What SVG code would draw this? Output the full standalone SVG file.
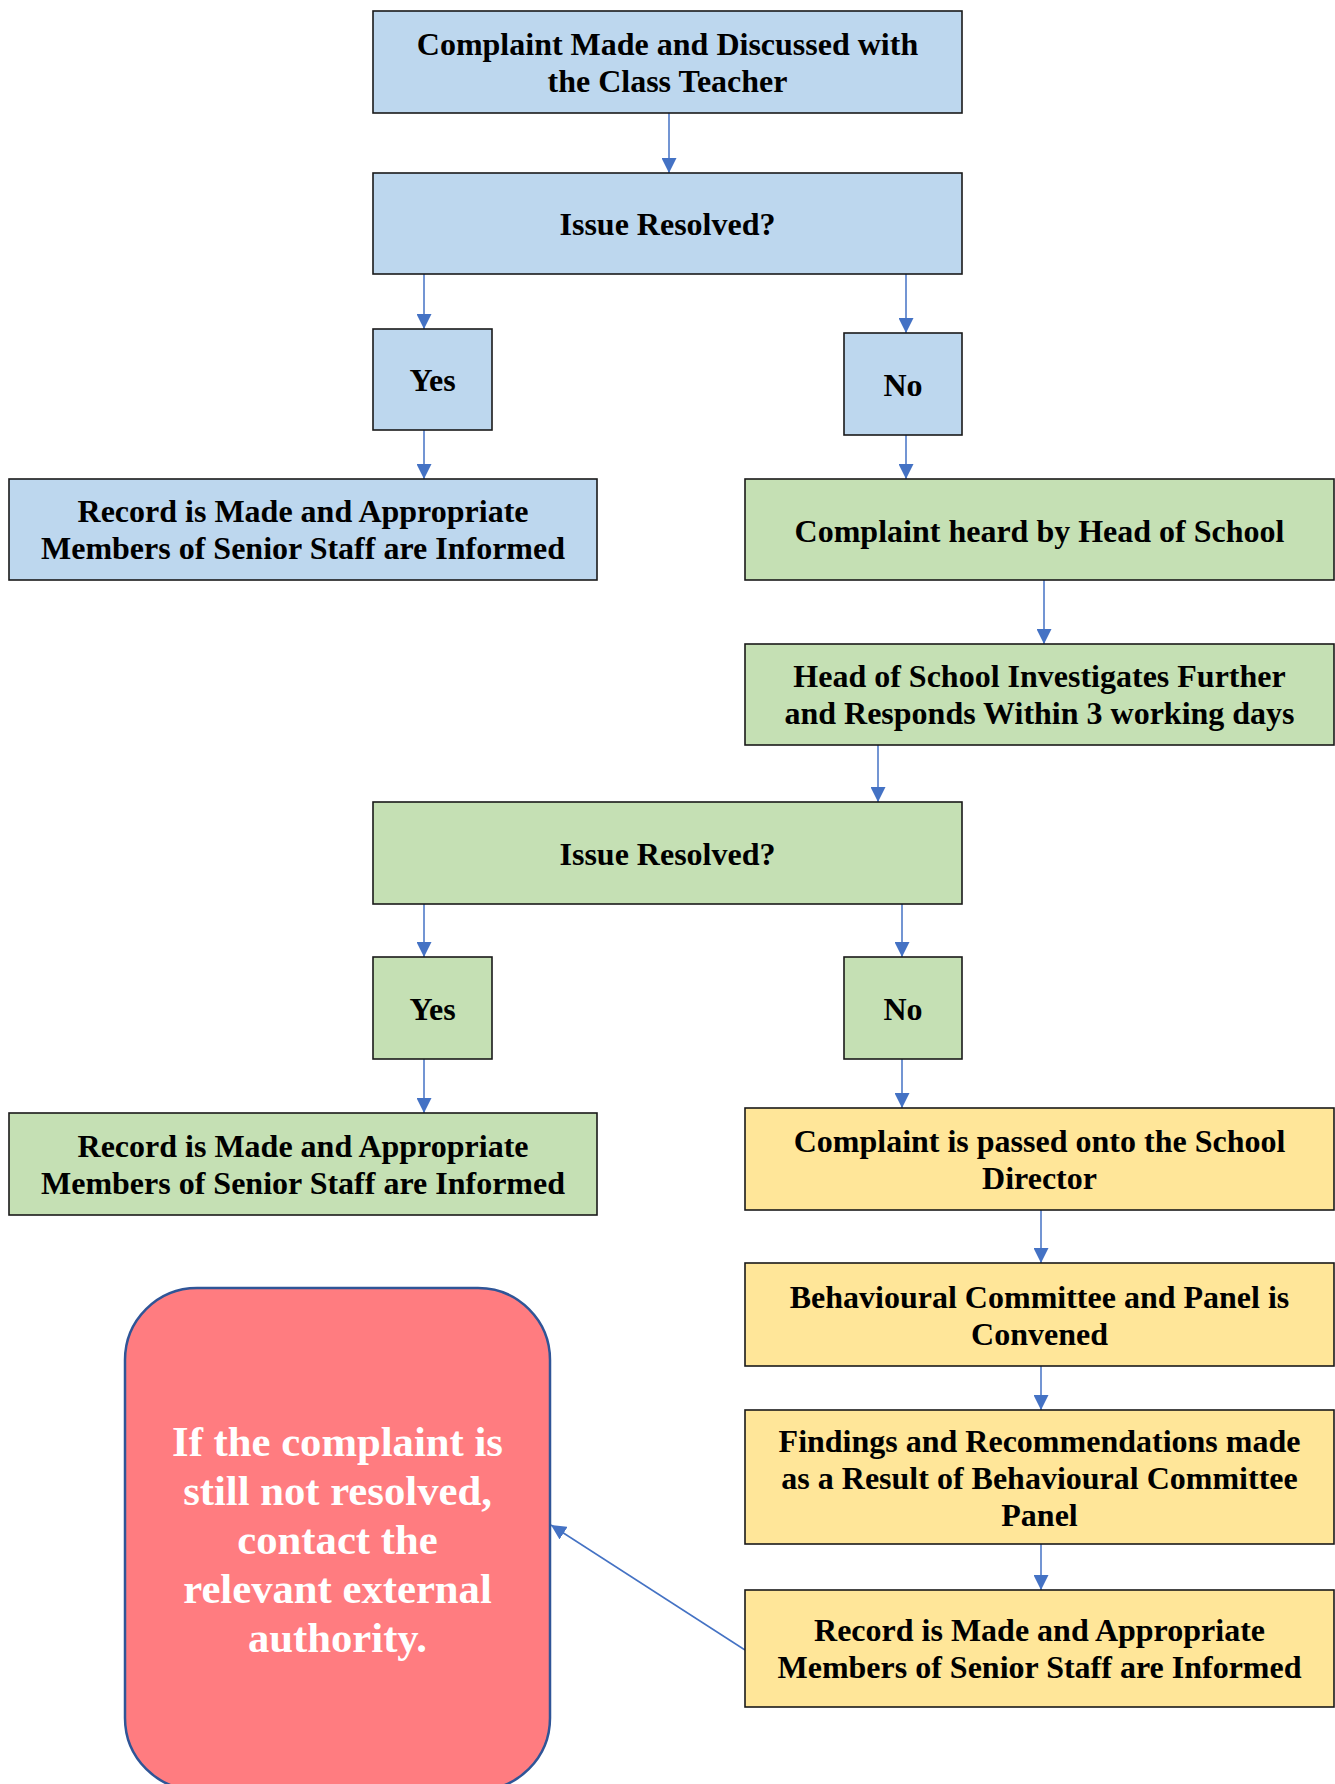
<svg xmlns="http://www.w3.org/2000/svg" width="1335" height="1784" viewBox="0 0 1335 1784">
<style>
.box{stroke:#1a1a1a;stroke-width:1.6}
.blue{fill:#BDD7EE}
.green{fill:#C5E0B4}
.yellow{fill:#FFE699}
.t{font-family:"Liberation Serif","Times New Roman",serif;font-weight:bold;font-size:32px;fill:#000;text-anchor:middle}
.w{font-family:"Liberation Serif","Times New Roman",serif;font-weight:bold;font-size:42.7px;fill:#fff;text-anchor:middle}
.c{stroke:#4472C4;stroke-width:1.5;fill:none;marker-end:url(#ah)}
</style>
<defs>
<marker id="ah" viewBox="0 0 10 10" refX="10" refY="5" markerUnits="userSpaceOnUse" markerWidth="15" markerHeight="15" orient="auto">
<path d="M0,0 L10,5 L0,10 z" fill="#4472C4"/>
</marker>
</defs>
<rect width="1335" height="1784" fill="#fff"/>
<g id="connectors">
<line class="c" x1="669" y1="113" x2="669" y2="173"/>
<line class="c" x1="424" y1="274" x2="424" y2="329"/>
<line class="c" x1="906" y1="274" x2="906" y2="333"/>
<line class="c" x1="424" y1="430" x2="424" y2="479"/>
<line class="c" x1="906" y1="435" x2="906" y2="479"/>
<line class="c" x1="1044" y1="580" x2="1044" y2="644"/>
<line class="c" x1="878" y1="745" x2="878" y2="802"/>
<line class="c" x1="424" y1="904" x2="424" y2="957"/>
<line class="c" x1="902" y1="904" x2="902" y2="957"/>
<line class="c" x1="424" y1="1059" x2="424" y2="1113"/>
<line class="c" x1="902" y1="1059" x2="902" y2="1108"/>
<line class="c" x1="1041" y1="1210" x2="1041" y2="1263"/>
<line class="c" x1="1041" y1="1366" x2="1041" y2="1410"/>
<line class="c" x1="1041" y1="1544" x2="1041" y2="1590"/>
<line class="c" x1="745" y1="1650" x2="551" y2="1525"/>
</g>
<g id="n1"><rect class="box blue" x="373" y="11" width="589" height="102"/>
<text class="t" x="667.5" y="55">Complaint Made and Discussed with</text>
<text class="t" x="667.5" y="92">the Class Teacher</text></g>
<g id="n2"><rect class="box blue" x="373" y="173" width="589" height="101"/>
<text class="t" x="667.5" y="235">Issue Resolved?</text></g>
<g id="n3"><rect class="box blue" x="373" y="329" width="119" height="101"/>
<text class="t" x="432.5" y="391">Yes</text></g>
<g id="n4"><rect class="box blue" x="844" y="333" width="118" height="102"/>
<text class="t" x="903" y="396">No</text></g>
<g id="n5"><rect class="box blue" x="9" y="479" width="588" height="101"/>
<text class="t" x="303" y="522">Record is Made and Appropriate</text>
<text class="t" x="303" y="559">Members of Senior Staff are Informed</text></g>
<g id="n6"><rect class="box green" x="745" y="479" width="589" height="101"/>
<text class="t" x="1039.5" y="542">Complaint heard by Head of School</text></g>
<g id="n7"><rect class="box green" x="745" y="644" width="589" height="101"/>
<text class="t" x="1039.5" y="687">Head of School Investigates Further</text>
<text class="t" x="1039.5" y="724">and Responds Within 3 working days</text></g>
<g id="n8"><rect class="box green" x="373" y="802" width="589" height="102"/>
<text class="t" x="667.5" y="865">Issue Resolved?</text></g>
<g id="n9"><rect class="box green" x="373" y="957" width="119" height="102"/>
<text class="t" x="432.5" y="1020">Yes</text></g>
<g id="n10"><rect class="box green" x="844" y="957" width="118" height="102"/>
<text class="t" x="903" y="1020">No</text></g>
<g id="n11"><rect class="box green" x="9" y="1113" width="588" height="102"/>
<text class="t" x="303" y="1157">Record is Made and Appropriate</text>
<text class="t" x="303" y="1194">Members of Senior Staff are Informed</text></g>
<g id="n12"><rect class="box yellow" x="745" y="1108" width="589" height="102"/>
<text class="t" x="1039.5" y="1152">Complaint is passed onto the School</text>
<text class="t" x="1039.5" y="1189">Director</text></g>
<g id="n13"><rect class="box yellow" x="745" y="1263" width="589" height="103"/>
<text class="t" x="1039.5" y="1308">Behavioural Committee and Panel is</text>
<text class="t" x="1039.5" y="1345">Convened</text></g>
<g id="n14"><rect class="box yellow" x="745" y="1410" width="589" height="134"/>
<text class="t" x="1039.5" y="1452">Findings and Recommendations made</text>
<text class="t" x="1039.5" y="1489">as a Result of Behavioural Committee</text>
<text class="t" x="1039.5" y="1526">Panel</text></g>
<g id="n15"><rect class="box yellow" x="745" y="1590" width="589" height="117"/>
<text class="t" x="1039.5" y="1641">Record is Made and Appropriate</text>
<text class="t" x="1039.5" y="1678">Members of Senior Staff are Informed</text></g>
<g id="n16"><rect x="125" y="1288" width="425" height="502" rx="72" ry="72" fill="#FF7C80" stroke="#2F5597" stroke-width="2.5"/>
<text class="w" x="337.5" y="1456">If the complaint is</text>
<text class="w" x="337.5" y="1505">still not resolved,</text>
<text class="w" x="337.5" y="1554">contact the</text>
<text class="w" x="337.5" y="1603">relevant external</text>
<text class="w" x="337.5" y="1652">authority.</text></g>
</svg>
